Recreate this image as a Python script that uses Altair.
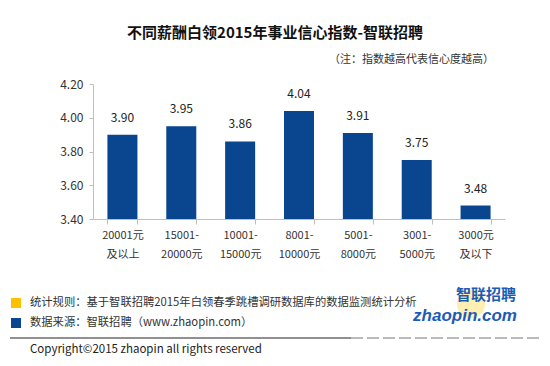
import altair as alt
import pandas as pd

categories = ["20001元|及以上", "15001-|20000元", "10001-|15000元", "8001-|10000元",
              "5001-|8000元", "3001-|5000元", "3000元|及以下"]
values = [3.90, 3.95, 3.86, 4.04, 3.91, 3.75, 3.48]
y_ticks = [3.40, 3.60, 3.80, 4.00, 4.20]

title_text = "不同薪酬白领2015年事业信心指数-智联招聘"
note_text = "（注：指数越高代表信心度越高）"
rule_text = "统计规则：基于智联招聘2015年白领春季跳槽调研数据库的数据监测统计分析"
source_text = "数据来源：智联招聘（www.zhaopin.com）"
copyright_text = "Copyright©2015 zhaopin all rights reserved"

FONT = "Noto Sans CJK SC"
BLUE = "#0A4590"
YELLOW = "#FFC000"

df = pd.DataFrame({"cat": categories, "val": values})

xenc = alt.X("cat:N", sort=categories, title=None,
             scale=alt.Scale(paddingInner=0.49, paddingOuter=0.245),
             axis=alt.Axis(labelAngle=0, labelExpr="split(datum.label, '|')",
                           labelFontSize=11, labelColor="#333", labelFont=FONT,
                           labelLineHeight=19, labelPadding=5,
                           domainColor="#bfbfbf", tickColor="#bfbfbf", tickSize=5,
                           tickBand="extent"))
yenc = alt.Y("val:Q", title=None,
             scale=alt.Scale(domain=[3.4, 4.2], zero=False, nice=False),
             axis=alt.Axis(values=y_ticks, tickCount=5, format=".2f", grid=False,
                           labelOverlap=False, labelBound=False, labelFlush=False,
                           labelFontSize=12, labelColor="#333", labelFont=FONT,
                           labelPadding=6, domainColor="#bfbfbf", tickColor="#bfbfbf",
                           tickSize=4))

bars = alt.Chart(df).mark_bar(color=BLUE).encode(x=xenc, y=yenc, y2=alt.datum(3.4))
labels = alt.Chart(df).mark_text(baseline="bottom", dy=-10, fontSize=12, color="#222",
                                 font=FONT).encode(x=xenc, y=yenc,
                                                   text=alt.Text("val:Q", format=".2f"))


def txt(t, x, y, font=FONT, **kw):
    return alt.Chart(pd.DataFrame({"t": [t]})).mark_text(font=font, **kw).encode(
        x=alt.value(x), y=alt.value(y), text="t:N")


def rect(x1, x2, y1, y2, color):
    return alt.Chart(pd.DataFrame({"a": [0]})).mark_rect(color=color).encode(
        x=alt.value(x1), x2=alt.value(x2), y=alt.value(y1), y2=alt.value(y2))


title = txt(title_text, 182, -51, fontSize=15, fontWeight="bold", color="#111",
            align="center", baseline="middle")
note = txt(note_text, 401, -24, fontSize=11, color="#333", align="right", baseline="middle")

sq1 = rect(-82, -72, 214, 224, YELLOW)
sq2 = rect(-82, -72, 234, 244, BLUE)
t1 = txt(rule_text, -63, 219, fontSize=11.3, color="#333", align="left", baseline="middle")
t2 = txt(source_text, -63, 239, fontSize=11.3, color="#333", align="left", baseline="middle")

line1 = alt.Chart(pd.DataFrame({"a": [0]})).mark_rule(color="#222", strokeWidth=1.2).encode(
    x=alt.value(-83), x2=alt.value(258), y=alt.value(254))
line2 = alt.Chart(pd.DataFrame({"a": [0]})).mark_rule(color="#777", strokeWidth=1,
                                                     strokeDash=[12, 4]).encode(
    x=alt.value(258), x2=alt.value(447), y=alt.value(254))
copy = txt(copyright_text, -63, 266, fontSize=11.5, color="#222", align="left", baseline="middle")

glow = alt.Chart(pd.DataFrame({"a": [0]})).mark_point(filled=True, color="#FFE066",
                                                      opacity=0.5, size=800).encode(
    x=alt.value(378), y=alt.value(220))
logo1 = txt("智联招聘", 393, 211, fontSize=15, fontWeight="bold", color="#1C5CB5",
            align="center", baseline="middle")
logo2 = txt("zhaopin.com", 372, 232, font="Liberation Sans", fontSize=17, fontWeight="bold",
            fontStyle="italic", color="#1C5CB5", align="center", baseline="middle")

chart = alt.layer(bars, labels, title, note, glow, sq1, sq2, t1, t2, line1, line2, copy,
                  logo1, logo2).properties(
    width=412, height=135,
    autosize=alt.AutoSizeParams(type="none"),
    padding={"left": 85, "top": 76, "right": 37, "bottom": 139},
).configure_view(stroke=None)

chart.save("out.html", embed_options={"renderer": "svg", "actions": False})
